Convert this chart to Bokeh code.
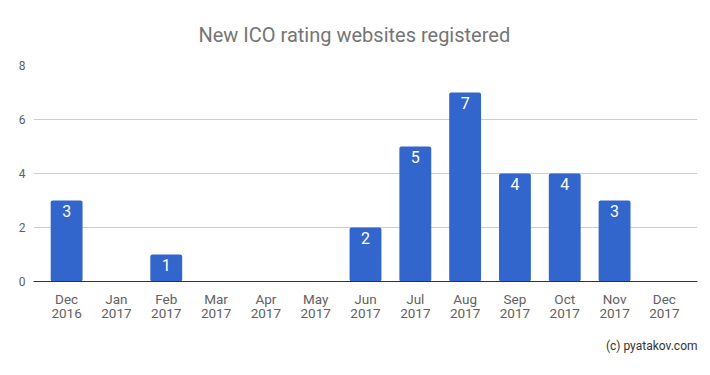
from bokeh.plotting import figure
from bokeh.models import ColumnDataSource, FactorRange, Range1d, Title, FixedTicker
from bokeh.core.properties import value
from bokeh.embed import file_html
from bokeh.resources import INLINE

months = ["Dec\n2016", "Jan\n2017", "Feb\n2017", "Mar\n2017", "Apr\n2017", "May\n2017",
          "Jun\n2017", "Jul\n2017", "Aug\n2017", "Sep\n2017", "Oct\n2017", "Nov\n2017", "Dec\n2017"]
counts = [3, 0, 1, 0, 0, 0, 2, 5, 7, 4, 4, 3, 0]
y_ticks = [0, 2, 4, 6, 8]

FONT = "Roboto"

src = ColumnDataSource(dict(m=months, v=counts))
lab_src = ColumnDataSource(dict(
    m=[m for m, c in zip(months, counts) if c > 0],
    v=[c for c in counts if c > 0],
    t=[str(c) for c in counts if c > 0],
))

p = figure(width=700, height=365, output_backend="svg", toolbar_location=None,
           x_range=FactorRange(factors=months, range_padding=0.165, range_padding_units="absolute"),
           y_range=Range1d(0, 8),
           min_border_left=33, min_border_right=3, min_border_top=65, min_border_bottom=84)
p.outline_line_color = None
p.background_fill_color = "white"
p.border_fill_color = "white"

p.vbar(x="m", top="v", width=0.64, source=src, color="#3366cc", line_color=None, border_radius=2)
p.text(x="m", y="v", text="t", source=lab_src, y_offset=4, text_align="center",
       text_baseline="top", text_color="white", text_font=value(FONT), text_font_size="16px")

p.title = Title(text="New ICO rating websites registered", align="left", offset=165,
                text_font=FONT, text_font_size="20px", text_font_style="normal",
                text_color="#757575", standoff=38)

credit = Title(text="(c) pyatakov.com", align="right", text_font=FONT, text_font_size="12px",
               text_font_style="normal", text_color="#333333", standoff=24)
p.add_layout(credit, "below")

p.xgrid.grid_line_color = None
p.ygrid.grid_line_color = "#cccccc"
p.yaxis.ticker = FixedTicker(ticks=y_ticks)
p.yaxis.axis_line_color = None
p.yaxis.major_tick_line_color = None
p.yaxis.minor_tick_line_color = None
p.yaxis.major_label_text_font = FONT
p.yaxis.major_label_text_font_size = "12px"
p.yaxis.major_label_text_color = "#616161"
p.yaxis.major_label_standoff = 2

p.xaxis.axis_line_color = "#333333"
p.xaxis.major_tick_line_color = None
p.xaxis.minor_tick_line_color = None
p.xaxis.major_label_text_font = FONT
p.xaxis.major_label_text_font_size = "13.5px"
p.xaxis.major_label_text_color = "#616161"
p.xaxis.major_label_text_line_height = 0.92
p.xaxis.major_label_standoff = 3

open("out.html", "w").write(file_html(p, INLINE))
